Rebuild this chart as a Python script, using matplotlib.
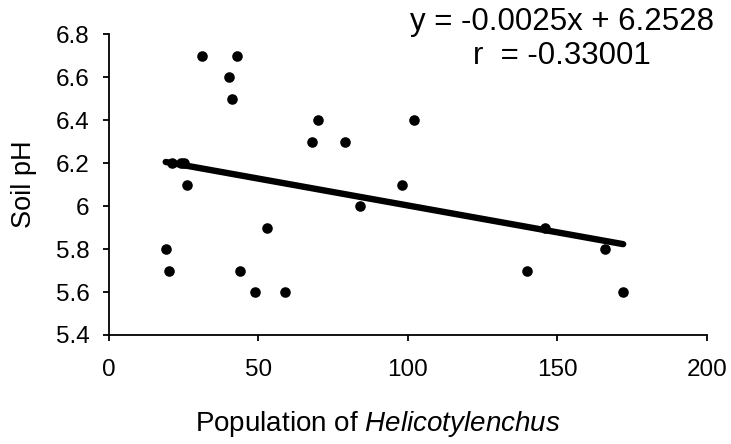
import numpy as np
import matplotlib
matplotlib.use("Agg")
import matplotlib.pyplot as plt

plt.rcParams['font.family'] = ['Liberation Sans', 'DejaVu Sans']
plt.rcParams['mathtext.fontset'] = 'custom'
plt.rcParams['mathtext.rm'] = 'Liberation Sans'
plt.rcParams['mathtext.it'] = 'Liberation Sans:italic'

# population of Helicotylenchus vs soil pH
population = [31, 43, 40, 41, 70, 68, 79, 102, 26, 21, 24, 25,
              19, 20, 44, 53, 49, 59, 84, 98, 140, 146, 166, 172]
soil_ph = [6.7, 6.7, 6.6, 6.5, 6.4, 6.3, 6.3, 6.4, 6.1, 6.2, 6.2, 6.2,
           5.8, 5.7, 5.7, 5.9, 5.6, 5.6, 6.0, 6.1, 5.7, 5.9, 5.8, 5.6]

slope = -0.0025
intercept = 6.2528
r_value = "-0.33001"

x_ticks = [0, 50, 100, 150, 200]
y_ticks = [5.4, 5.6, 5.8, 6.0, 6.2, 6.4, 6.6, 6.8]
y_tick_labels = ["5.4", "5.6", "5.8", "6", "6.2", "6.4", "6.6", "6.8"]

fig = plt.figure(figsize=(7.31, 4.44), dpi=100)
ax = fig.add_axes([0.149, 0.2455, 0.818, 0.6775])

ax.scatter(population, soil_ph, s=58, color='black', zorder=3, linewidths=0)

xs = np.array([min(population), max(population)])
ax.plot(xs, slope * xs + intercept, color='black', lw=4.6, solid_capstyle='round', zorder=2)

ax.set_xlim(0, 200)
ax.set_ylim(5.4, 6.8)
ax.set_xticks(x_ticks)
ax.set_yticks(y_ticks)
ax.set_yticklabels(y_tick_labels)

for side in ['top', 'right']:
    ax.spines[side].set_visible(False)
for side in ['left', 'bottom']:
    ax.spines[side].set_linewidth(1.3)
ax.tick_params(axis='both', labelsize=17.5, width=1.3, length=4, color='black')
ax.tick_params(axis='x', pad=13)
ax.tick_params(axis='y', pad=10)

ax.set_ylabel('Soil pH', fontsize=19.5)
ax.yaxis.set_label_coords(-0.12, 0.5)
ax.set_xlabel('Population of $\\it{Helicotylenchus}$', fontsize=20)
ax.xaxis.set_label_coords(0.45, -0.245)

fig.text(0.769, 0.95, 'y = %.4fx + %.4f' % (slope, intercept), fontsize=22.5,
         ha='center', va='center')
fig.text(0.768, 0.874, 'r  = ' + r_value, fontsize=22.5, ha='center', va='center')

fig.savefig('out.png', dpi=100)
